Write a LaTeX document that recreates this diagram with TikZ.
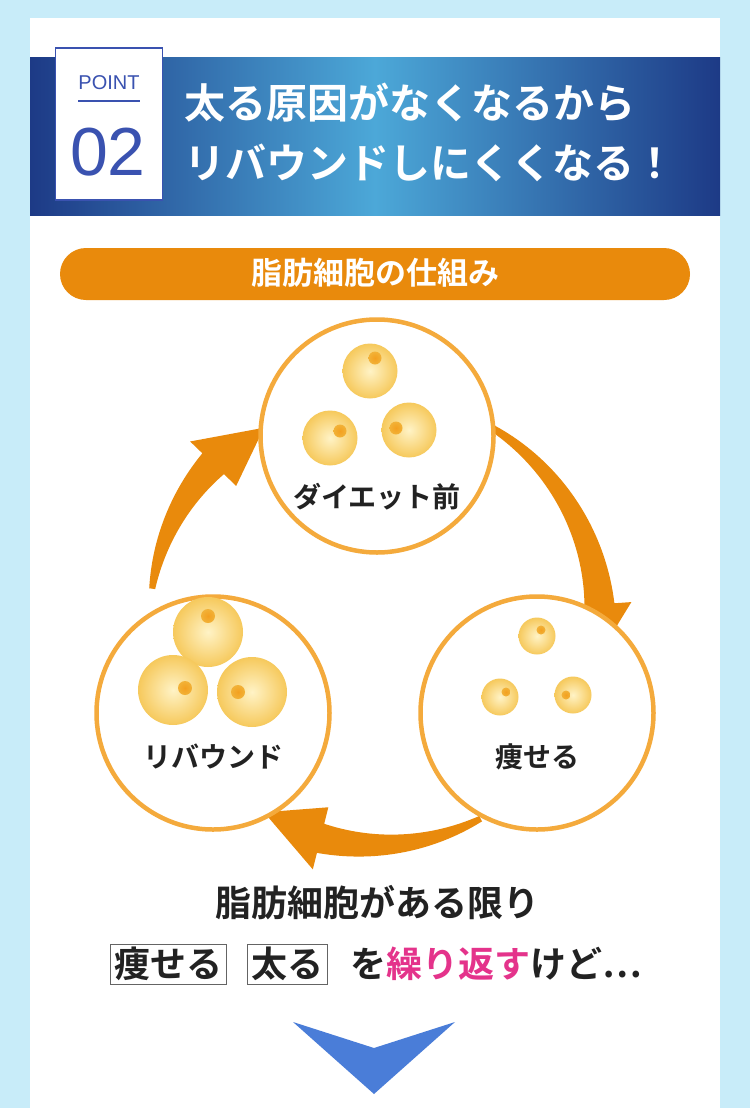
\documentclass[tikz,border=0pt]{standalone}
\usepackage{fontspec}
\setmainfont{Noto Sans CJK JP}[BoldFont={* Bold}]
\newfontfamily\latinf{Liberation Sans}
\definecolor{bgblue}{HTML}{C8ECF9}
\definecolor{hdark}{HTML}{1D3A86}
\definecolor{hlight}{HTML}{4CA8D8}
\definecolor{pblue}{HTML}{3A52B0}
\definecolor{orng}{HTML}{E98A0C}
\definecolor{ring}{HTML}{F4AA3C}
\definecolor{cin}{HTML}{FFF3C6}
\definecolor{cout}{HTML}{F6C95C}
\definecolor{nuc}{HTML}{F0A828}
\definecolor{txt}{HTML}{222222}
\definecolor{mag}{HTML}{E4338B}
\definecolor{chev}{HTML}{4A7DD8}
\tikzset{
  cell/.style={circle, inner sep=0pt, shading=radial, inner color=cin, outer color=cout},
  nucl/.style={circle, inner sep=0pt, shading=radial, inner color=nuc!80!orange, outer color=nuc!70!cout},
  ringc/.style={circle, draw=ring, line width=4.5pt, fill=white, minimum size=233pt, inner sep=0pt},
  lbl/.style={font=\bfseries\fontsize{28}{30}\selectfont, text=txt, inner sep=0pt},
  btxt/.style={font=\bfseries\fontsize{36}{40}\selectfont, text=txt, inner sep=0pt},
  wbox/.style={draw=txt!70, line width=0.8pt, inner xsep=4pt, inner ysep=3pt, font=\bfseries\fontsize{36}{40}\selectfont, text=txt}
}
\begin{document}
\begin{tikzpicture}[x=1pt,y=-1pt]
\useasboundingbox (0,0) rectangle (750,1108);
\fill[bgblue] (0,0) rectangle (750,1108);
\fill[white] (30,18) rectangle (720,1108);
% header
\shade[left color=hdark, right color=hdark, middle color=hlight] (30,58) rectangle (720,215);
\node[draw=pblue, line width=1.5pt, fill=white, minimum width=107pt, minimum height=152pt, inner sep=0pt] (pbox) at (109,124) {};
\node[font=\latinf\fontsize{20}{20}\selectfont, text=pblue] (pt) at (109,83) {POINT};
\draw[pblue, line width=1.2pt] (78,101) -- (140,101);
\node[font=\latinf\fontsize{68}{68}\selectfont, text=pblue] (num) at (108,152) {02};
\node[anchor=west, font=\bfseries\fontsize{41}{41}\selectfont, text=white, inner sep=0pt] (t1) at (184,103) {太る原因がなくなるから};
\node[anchor=west, font=\bfseries\fontsize{41}{41}\selectfont, text=white, inner sep=0pt] (t2) at (184,163) {リバウンドしにくくなる！};
% pill
\node[fill=orng, rounded corners=26pt, minimum width=630pt, minimum height=52pt, inner sep=0pt] (pill) at (375,274) {};
\node[font=\bfseries\fontsize{31}{31}\selectfont, text=white] (ptxt) at (375,273) {脂肪細胞の仕組み};
% arrows
\begin{scope}[shift={(375,620)}, yscale=-1]
\fill[orng] plot[domain=60:4, samples=40] (\x:{225+3+12*(60-\x)/56}) -- (4:257) -- (-12:222) -- (4:193) -- plot[domain=4:60, samples=40] (\x:{225-3-12*(60-\x)/56}) -- cycle;
\fill[orng] plot[domain=-62:-104, samples=40] (\x:{225+3+12*(-62-\x)/42}) -- (-104:257) -- (-120:222) -- (-104:193) -- plot[domain=-104:-62, samples=40] (\x:{225-3-12*(-62-\x)/42}) -- cycle;
\fill[orng] plot[domain=172:136, samples=40] (\x:{225+3+12*(172-\x)/36}) -- (136:257) -- (120:222) -- (136:193) -- plot[domain=136:172, samples=40] (\x:{225-3-12*(172-\x)/36}) -- cycle;
\end{scope}
% circles
\node[ringc] (ctop) at (377,436) {};
\node[ringc] (cright) at (537,713) {};
\node[ringc] (cleft) at (213,713) {};
% top cells
\node[cell, minimum size=55pt] (a1) at (370,371) {};
\node[cell, minimum size=55pt] (a2) at (330,438) {};
\node[cell, minimum size=55pt] (a3) at (409,430) {};
\node[nucl, minimum size=13pt] at (375,358) {};
\node[nucl, minimum size=13pt] at (340,431) {};
\node[nucl, minimum size=13pt] at (396,428) {};
\node[lbl] (lt) at (377,497) {ダイエット前};
% right cells
\node[cell, minimum size=37pt] (b1) at (537,636) {};
\node[cell, minimum size=37pt] (b2) at (500,697) {};
\node[cell, minimum size=37pt] (b3) at (573,695) {};
\node[nucl, minimum size=9pt] at (541,630) {};
\node[nucl, minimum size=9pt] at (506,692) {};
\node[nucl, minimum size=9pt] at (566,695) {};
\node[lbl] (lr) at (537,757) {痩せる};
% left cells
\node[cell, minimum size=70pt] (c1) at (208,632) {};
\node[cell, minimum size=70pt] (c2) at (173,690) {};
\node[cell, minimum size=70pt] (c3) at (252,692) {};
\node[nucl, minimum size=14pt] at (208,616) {};
\node[nucl, minimum size=14pt] at (185,688) {};
\node[nucl, minimum size=14pt] at (238,692) {};
\node[lbl] (ll) at (213,757) {リバウンド};
% bottom text
\node[btxt] (bt1) at (377,903) {脂肪細胞がある限り};
\node[wbox, anchor=west] (w1) at (110,964) {痩せる};
\node[wbox, anchor=west] (w2) at (247,964) {太る};
\node[btxt, anchor=west] (w3) at (350,964) {を\textcolor{mag}{繰り返す}けど⋯};
% chevron
\fill[chev] (293,1022) -- (374,1048) -- (455,1022) -- (374,1094) -- cycle;
\end{tikzpicture}
\end{document}
